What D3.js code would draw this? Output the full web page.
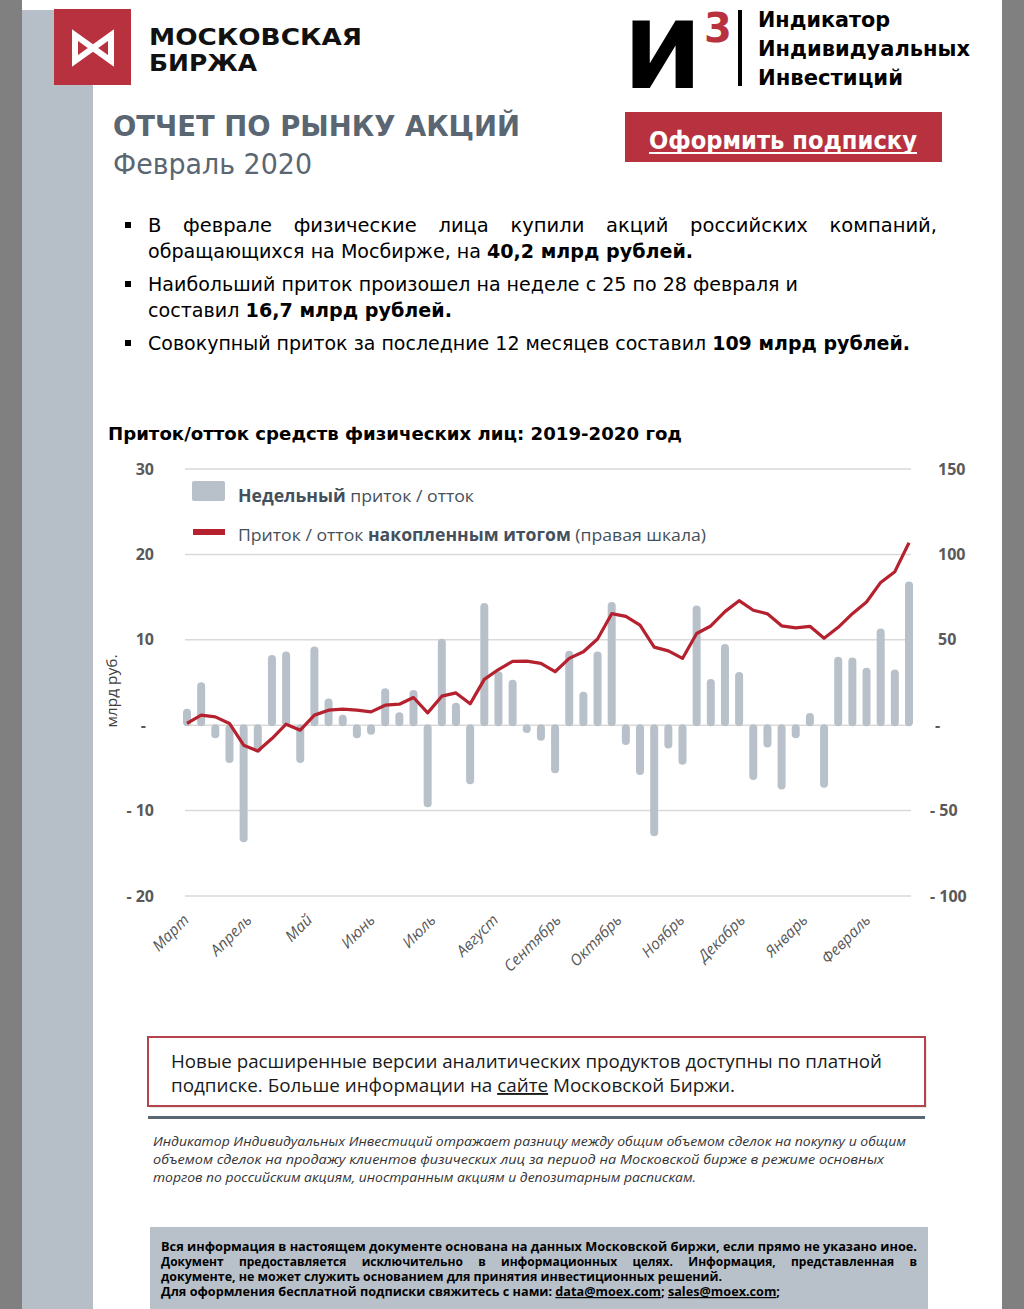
<!DOCTYPE html>
<html><head><meta charset="utf-8">
<script src="https://cdn.jsdelivr.net/npm/d3@7"></script>
<style>body{margin:0;background:#fff}svg{display:block}</style>
</head><body>
<svg id="c" width="1024" height="1309"></svg>
<script>
// ---------- DATA ----------
const weeks = ["2019-03-04","2019-03-11","2019-03-18","2019-03-25",
"2019-04-01","2019-04-08","2019-04-15","2019-04-22","2019-04-29",
"2019-05-06","2019-05-13","2019-05-20","2019-05-27",
"2019-06-03","2019-06-10","2019-06-17","2019-06-24",
"2019-07-01","2019-07-08","2019-07-15","2019-07-22","2019-07-29",
"2019-08-05","2019-08-12","2019-08-19","2019-08-26",
"2019-09-02","2019-09-09","2019-09-16","2019-09-23","2019-09-30",
"2019-10-07","2019-10-14","2019-10-21","2019-10-28",
"2019-11-04","2019-11-11","2019-11-18","2019-11-25",
"2019-12-02","2019-12-09","2019-12-16","2019-12-23","2019-12-30",
"2020-01-06","2020-01-13","2020-01-20","2020-01-27",
"2020-02-03","2020-02-10","2020-02-17","2020-02-24"];
const weeklyFlow = [1.8,4.9,-1.4,-4.3,-13.6,-3.1,8.1,8.5,-4.3,9.1,3.0,1.1,-1.4,-1.0,4.2,1.4,4.0,-9.5,10.0,2.5,-6.8,14.2,6.2,5.2,-0.8,-1.7,-5.5,8.6,3.8,8.5,14.3,-2.2,-5.7,-12.9,-2.6,-4.5,13.9,5.3,9.4,6.1,-6.3,-2.5,-7.4,-1.4,1.3,-7.2,7.9,7.8,6.6,11.2,6.4,16.7];
const cumulativeFlow = [1.0,5.9,4.9,1.0,-11.7,-15.1,-7.8,0.6,-2.9,5.9,8.8,9.4,8.8,7.8,11.7,12.3,16.2,7.2,17.0,18.9,12.5,26.8,32.6,37.4,37.5,36.2,31.3,39.1,43.0,50.5,65.3,63.7,58.6,45.7,43.5,39.1,53.7,58.1,66.5,72.9,67.3,65.2,58.2,57.0,57.9,50.9,57.3,65.3,72.1,83.6,89.9,106.8];
const monthStarts = ["2019-03-01","2019-04-01","2019-05-01","2019-06-01","2019-07-01","2019-08-01","2019-09-01","2019-10-01","2019-11-01","2019-12-01","2020-01-01","2020-02-01"];
const monthLabels = ["Март","Апрель","Май","Июнь","Июль","Август","Сентябрь","Октябрь","Ноябрь","Декабрь","Январь","Февраль"];
const leftTicks = [-20,-10,0,10,20,30];
const leftTickLabels = ["- 20","- 10","-","10","20","30"];
const rightTicks = [-100,-50,0,50,100,150];
const rightTickLabels = ["- 100","- 50","-","50","100","150"];

// ---------- STYLE ----------
const RED = "#b7323e", SLATE = "#5a6672", BAR = "#b8c1c9", LINE = "#b5212e", AX = "#595959";
const svg = d3.select("#c");
const parse = d3.timeParse("%Y-%m-%d");

svg.append("rect").attr("width",1024).attr("height",1309).attr("fill","#fff");
svg.append("rect").attr("x",0).attr("y",0).attr("width",22).attr("height",1309).attr("fill","#808080");
svg.append("rect").attr("x",22).attr("y",10).attr("width",71).attr("height",1299).attr("fill","#b6bfc7");
svg.append("rect").attr("x",1002).attr("y",0).attr("width",22).attr("height",1309).attr("fill","#808080");

function txt(x,y,str,o){
  const t = svg.append("text").attr("x",x).attr("y",y).text(str);
  o = o||{};
  t.attr("font-family",o.ff||"DejaVu Sans").attr("font-size",o.fs||16)
   .attr("font-weight",o.fw||"normal").attr("fill",o.fill||"#000");
  if(o.it) t.attr("font-style","italic");
  if(o.anchor) t.attr("text-anchor",o.anchor);
  if(o.len){ t.attr("textLength",o.len).attr("lengthAdjust","spacingAndGlyphs"); }
  return t;
}
function mixed(x,y,parts,o){
  const t = svg.append("text").attr("x",x).attr("y",y)
    .attr("font-family",o.ff||"DejaVu Sans").attr("font-size",o.fs||16).attr("fill",o.fill||"#000")
    .attr("xml:space","preserve").style("white-space","pre");
  if(o.it) t.attr("font-style","italic");
  parts.forEach(p=>{
    const s = t.append("tspan").text(p[0]);
    if(p[1]) s.attr("font-weight","bold");
    if(p[2]) s.attr("text-decoration","underline");
  });
  if(o.len){ t.attr("textLength",o.len).attr("lengthAdjust","spacingAndGlyphs"); }
  return t;
}
function justified(x0,x1,y,words,o){
  const els = words.map(w=>{
    const t = svg.append("text").attr("y",y).text(w[0])
      .attr("font-family",o.ff||"DejaVu Sans").attr("font-size",o.fs||16).attr("fill",o.fill||"#000")
      .attr("font-weight",w[1]?"bold":"normal");
    if(o.it) t.attr("font-style","italic");
    return t;
  });
  const ws = els.map(e=>e.node().getComputedTextLength());
  const gap = (x1-x0-d3.sum(ws))/(els.length-1);
  let cx = x0;
  els.forEach((e,i)=>{ e.attr("x",cx); cx += ws[i]+gap; });
}

// ---------- HEADER ----------
svg.append("rect").attr("x",54).attr("y",9).attr("width",77).attr("height",76).attr("fill",RED);
svg.append("path").attr("d","M75,35 L75,61 L93,48 L111,61 L111,35 L93,48 Z")
  .attr("fill","none").attr("stroke","#fff").attr("stroke-width",6).attr("stroke-linejoin","miter");
txt(149,45,"МОСКОВСКАЯ",{ff:"DejaVu Sans",fs:23,fw:"bold",fill:"#111",len:213});
txt(149,71,"БИРЖА",{ff:"DejaVu Sans",fs:23,fw:"bold",fill:"#111",len:108});

txt(628,88,"И",{ff:"Roboto",fs:94,fw:900,fill:"#000",len:70});
txt(704,42,"3",{ff:"DejaVu Sans",fs:40,fw:"bold",fill:RED});
svg.append("rect").attr("x",738).attr("y",10).attr("width",4).attr("height",76).attr("fill","#000");
txt(758,27,"Индикатор",{fs:22,fw:"bold",len:132});
txt(758,56,"Индивидуальных",{fs:22,fw:"bold",len:212});
txt(758,85,"Инвестиций",{fs:22,fw:"bold",len:145});

txt(113,136,"ОТЧЕТ ПО РЫНКУ АКЦИЙ",{fs:29,fw:"bold",fill:SLATE,len:407});
txt(113,174,"Февраль 2020",{fs:29,fill:SLATE,len:199});

svg.append("rect").attr("x",625).attr("y",112).attr("width",317).attr("height",50).attr("fill",RED);
txt(783,149,"Оформить подписку",{fs:24,fw:"bold",fill:"#fff",anchor:"middle",len:268});
svg.append("rect").attr("x",649).attr("y",152).attr("width",268).attr("height",2).attr("fill","#fff");

// ---------- BULLETS ----------
[225,284,343].forEach(cy=>svg.append("rect").attr("x",125).attr("y",cy-3).attr("width",6).attr("height",6).attr("fill","#000"));
const bfs = 19.5;
justified(148,937,232,"В феврале физические лица купили акций российских компаний,".split(" ").map(w=>[w,false]),{fs:bfs});
mixed(148,258,[["обращающихся на Мосбирже, на "],["40,2 млрд рублей.",true]],{fs:bfs,len:545});
mixed(148,291,[["Наибольший приток произошел на неделе с 25 по 28 февраля и"]],{fs:bfs,len:650});
mixed(148,317,[["составил "],["16,7 млрд рублей.",true]],{fs:bfs,len:304});
mixed(148,350,[["Совокупный приток за последние 12 месяцев составил "],["109 млрд рублей.",true]],{fs:bfs,len:762});

// ---------- CHART ----------
txt(108,440,"Приток/отток средств физических лиц: 2019-2020 год",{fs:18.5,fw:"bold",len:574});

const x = d3.scaleTime().domain([parse(weeks[0]),parse(weeks[weeks.length-1])]).range([187,909]);
const yL = d3.scaleLinear().domain([-20,30]).range([896,469]);
const yR = d3.scaleLinear().domain([-100,150]).range([896,469]);
const plotX0 = 185, plotX1 = 911;

svg.append("g").selectAll("line").data(leftTicks).join("line")
  .attr("x1",plotX0).attr("x2",plotX1).attr("y1",d=>yL(d)).attr("y2",d=>yL(d))
  .attr("stroke","#d9d9d9").attr("stroke-width",1.5);

const axL = svg.append("g").attr("transform","translate(154,0)")
  .call(d3.axisLeft(yL).tickValues(leftTicks).tickSize(0).tickPadding(0).tickFormat((d,i)=>leftTickLabels[i]));
axL.select(".domain").remove();
axL.selectAll("text").attr("font-family","Open Sans").attr("font-weight","bold").attr("font-size",16).attr("fill",AX)
  .attr("dx",d=>d===0?-8:0);

const axR = svg.append("g").attr("transform","translate(938,0)")
  .call(d3.axisRight(yR).tickValues(rightTicks).tickSize(0).tickPadding(0).tickFormat((d,i)=>rightTickLabels[i]));
axR.select(".domain").remove();
axR.selectAll("text").attr("font-family","Open Sans").attr("font-weight","bold").attr("font-size",16).attr("fill",AX)
  .attr("dx",d=>d<0?-8:(d===0?-3:0));

svg.append("text").attr("transform","translate(117,691) rotate(-90)").attr("text-anchor","middle")
  .attr("font-family","Open Sans").attr("font-size",14).attr("fill","#404040")
  .attr("textLength",73).attr("lengthAdjust","spacingAndGlyphs").text("млрд руб.");

// bars
const bw = 8;
svg.append("g").selectAll("rect").data(weeklyFlow).join("rect")
  .attr("x",(d,i)=>x(parse(weeks[i]))-bw/2).attr("width",bw)
  .attr("y",d=>yL(Math.max(0,d))-1).attr("height",d=>Math.abs(yL(d)-yL(0))+2)
  .attr("rx",4).attr("ry",4).attr("fill",BAR);

// cumulative line
svg.append("path").datum(cumulativeFlow)
  .attr("d",d3.line().x((d,i)=>x(parse(weeks[i]))).y(d=>yR(d)))
  .attr("fill","none").attr("stroke",LINE).attr("stroke-width",3.2).attr("stroke-linejoin","round");

// month labels
svg.append("g").selectAll("text").data(monthStarts).join("text")
  .attr("transform",d=>`translate(${x(parse(d))+9},921) rotate(-45)`)
  .attr("text-anchor","end").attr("font-family","Open Sans").attr("font-style","italic")
  .attr("font-size",15.5).attr("fill",AX).text((d,i)=>monthLabels[i]);

// legend
svg.append("rect").attr("x",192).attr("y",481).attr("width",33).attr("height",20).attr("rx",2).attr("fill",BAR);
mixed(238,502,[["Недельный",true],[" приток / отток"]],{ff:"Open Sans",fs:17,fill:"#44505b",len:236});
svg.append("line").attr("x1",193).attr("x2",225).attr("y1",532).attr("y2",532).attr("stroke",LINE).attr("stroke-width",6);
mixed(238,541,[["Приток / отток "],["накопленным итогом",true],[" (правая шкала)"]],{ff:"Open Sans",fs:17,fill:"#44505b",len:468});

// ---------- NOTE BOX ----------
svg.append("rect").attr("x",150).attr("y",1039).attr("width",777).attr("height",69).attr("fill","#e6e6e6");
svg.append("rect").attr("x",148).attr("y",1037).attr("width",777).attr("height",69).attr("fill","#fff")
  .attr("stroke","#b5434c").attr("stroke-width",2);
txt(171,1068,"Новые расширенные версии аналитических продуктов доступны по платной",{ff:"Open Sans",fs:19,fill:"#1a1a1a",len:711});
mixed(171,1092,[["подписке. Больше информации на "],["сайте",false,true],[" Московской Биржи."]],{ff:"Open Sans",fs:19,fill:"#1a1a1a",len:564});
svg.append("rect").attr("x",148).attr("y",1116).attr("width",777).attr("height",3).attr("fill",SLATE);

txt(153,1146,"Индикатор Индивидуальных Инвестиций отражает разницу между общим объемом сделок на покупку и общим",{ff:"Open Sans",fs:13,it:true,fill:"#333",len:753});
txt(153,1164,"объемом сделок на продажу клиентов физических лиц за период на Московской бирже в режиме основных",{ff:"Open Sans",fs:13,it:true,fill:"#333",len:731});
txt(153,1182,"торгов по российским акциям, иностранным акциям и депозитарным распискам.",{ff:"Open Sans",fs:13,it:true,fill:"#333",len:543});

// ---------- FOOTER ----------
svg.append("rect").attr("x",150).attr("y",1227).attr("width",778).attr("height",82).attr("fill","#b8c1c9");
txt(161,1251,"Вся информация в настоящем документе основана на данных Московской биржи, если прямо не указано иное.",{ff:"Open Sans",fs:12,fw:"bold",len:756});
justified(161,917,1266,"Документ предоставляется исключительно в информационных целях. Информация, представленная в".split(" ").map(w=>[w,true]),{ff:"Open Sans",fs:12});
txt(161,1281,"документе, не может служить основанием для принятия инвестиционных решений.",{ff:"Open Sans",fs:12,fw:"bold",len:561});
mixed(161,1296,[["Для оформления бесплатной подписки свяжитесь с нами: ",true],["data@moex.com",true,true],["; ",true],["sales@moex.com",true,true],[";",true]],{ff:"Open Sans",fs:12,len:619});
</script>
</body></html>
